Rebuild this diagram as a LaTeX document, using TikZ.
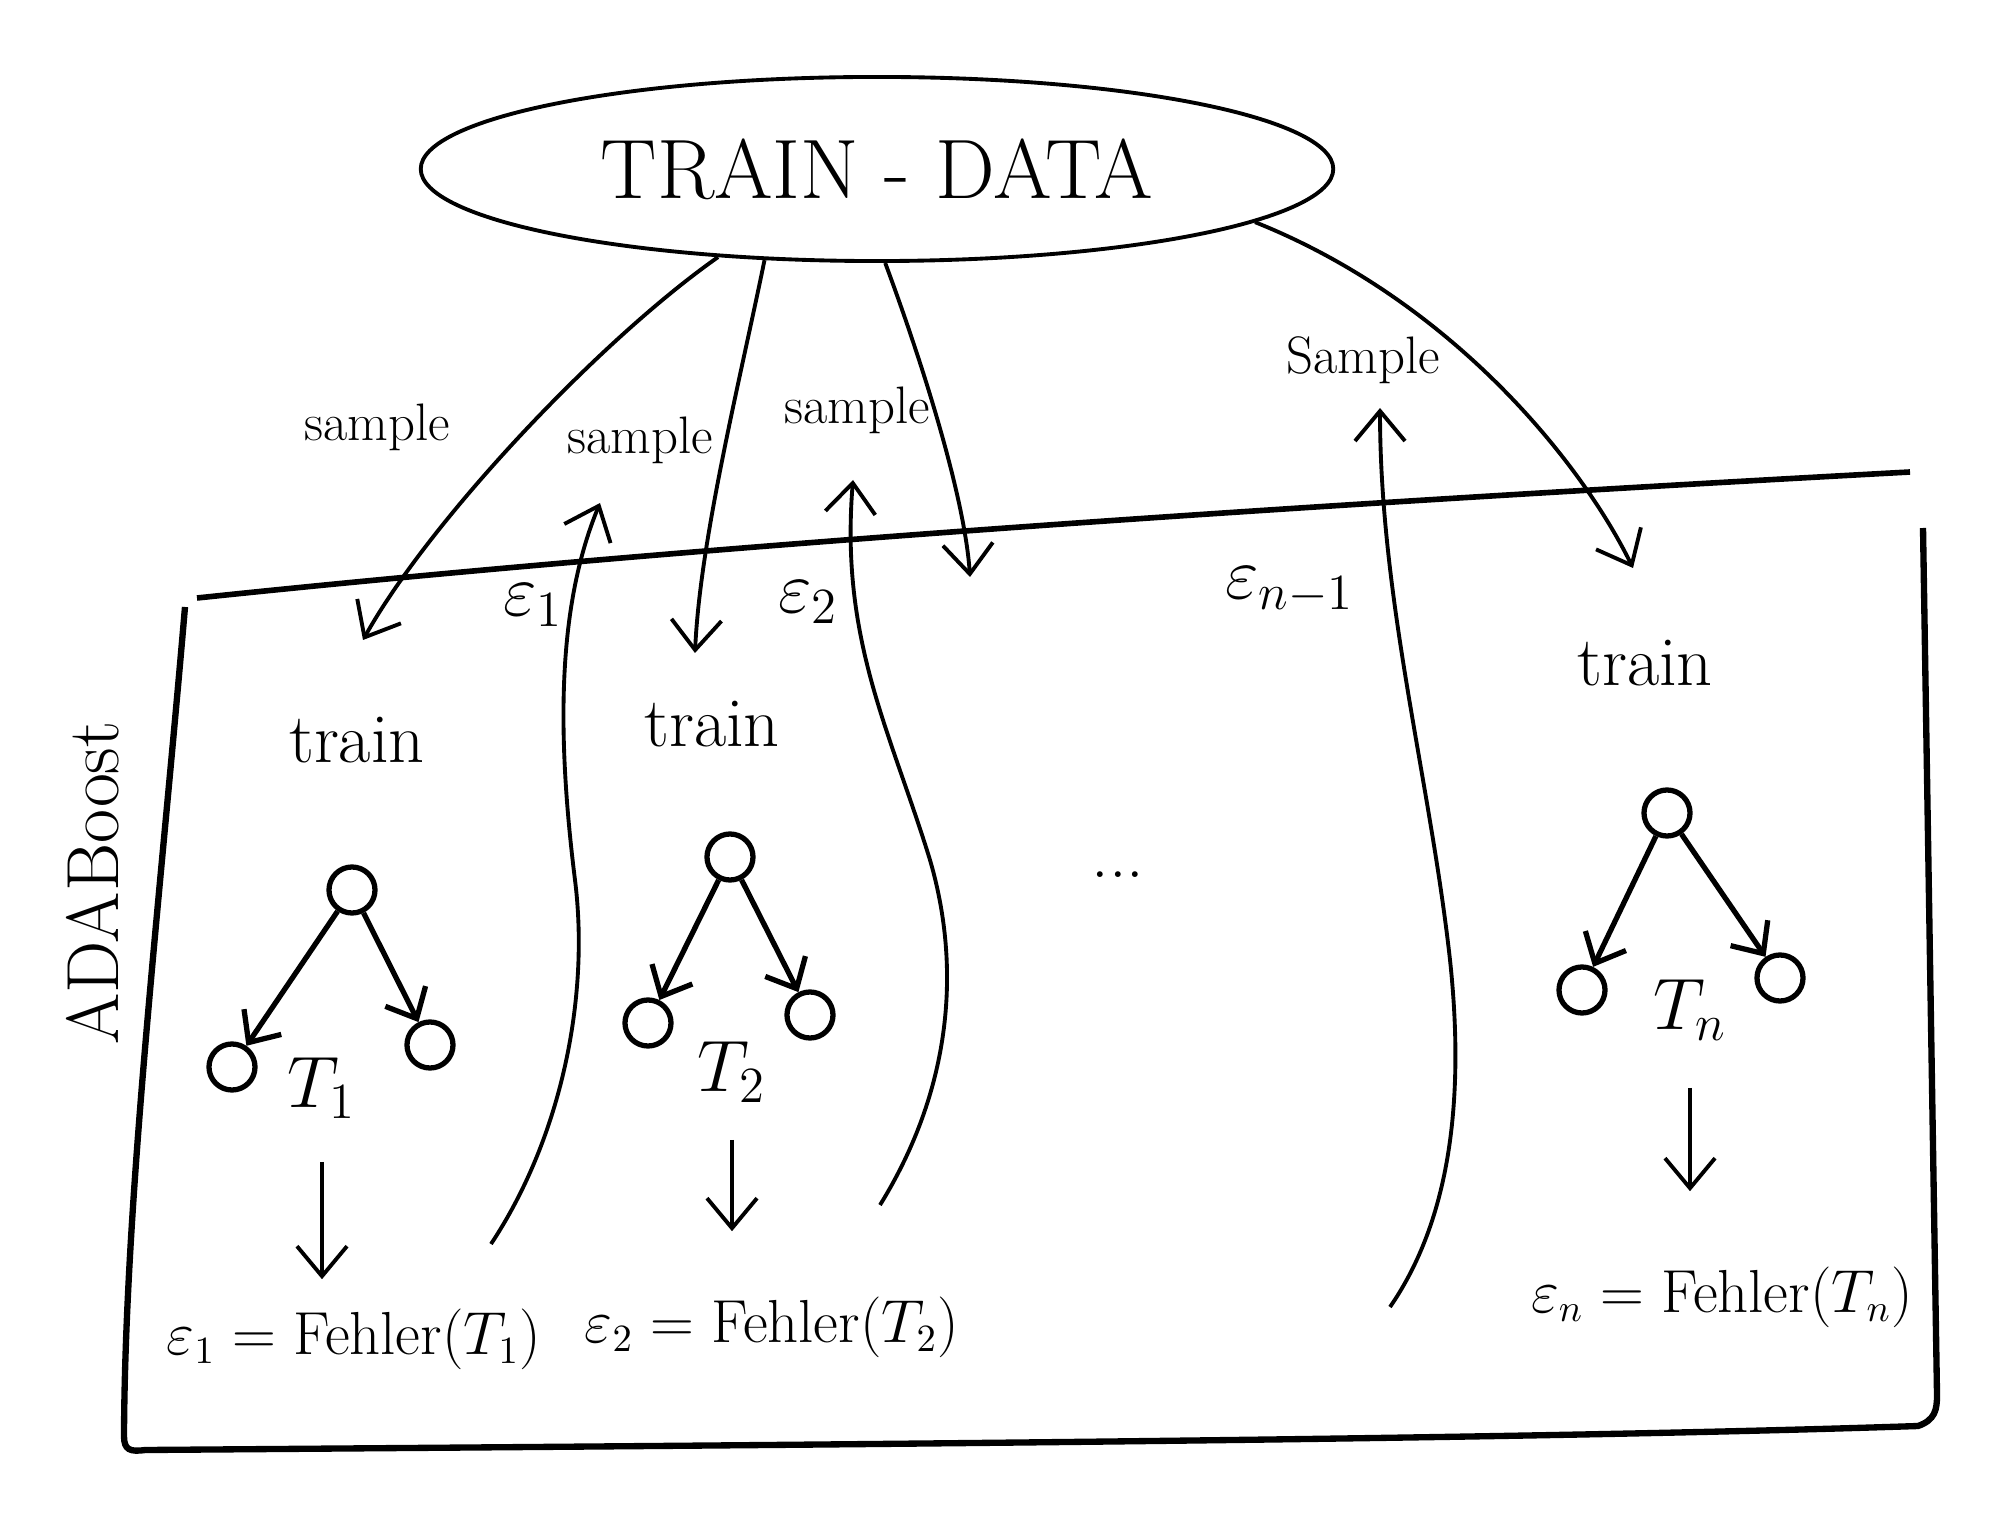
\documentclass[tikz,border=0pt]{standalone}
\usetikzlibrary{shapes.geometric, arrows.meta}
\begin{document}
\begin{tikzpicture}[x=0.01cm, y=-0.01cm, line width=1.1pt,
    barb/.style={-{Straight Barb[length=3mm, width=5mm]}},
    treebarb/.style={-{Straight Barb[length=2.5mm, width=4.5mm]}, line width=1.5pt},
    leaf/.style={circle, draw, line width=1.5pt, minimum size=0.46cm, inner sep=0pt},
    smp/.style={font=\fontsize{15}{18}\selectfont, inner sep=1pt},
    trn/.style={font=\fontsize{20}{24}\selectfont, inner sep=1pt},
    eps/.style={font=\fontsize{22}{26}\selectfont, inner sep=1pt},
    err/.style={font=\fontsize{16}{20}\selectfont, inner sep=1pt}]
  \useasboundingbox (0,0) rectangle (2000,1516);
  % data set on top
  \node[draw, ellipse, minimum width=9.12cm, minimum height=1.84cm, font=\fontsize{24}{28}\selectfont] (data) at (877,169) {TRAIN - DATA};
  % frame of the boosting part
  \draw[line width=1.6pt] (197,598) .. controls (700,545) and (1300,505) .. (1910,472);
  \draw[line width=1.8pt] (185,607) .. controls (160,900) and (125,1200) .. (124,1436) .. controls (124,1450) and (130,1452) .. (145,1450) .. controls (800,1445) and (1500,1440) .. (1918,1426) .. controls (1935,1420) and (1937,1410) .. (1937,1395) -- (1923,528);
  \node[rotate=90, font=\fontsize{21}{24}\selectfont] (ada) at (93,883) {ADABoost};
  % labels
  \node[smp] (S1) at (377,427) {sample};
  \node[smp] (S2) at (640,440) {sample};
  \node[smp] (S3) at (857,410) {sample};
  \node[smp] (S4) at (1363,360) {Sample};
  \node[eps] (E1) at (533,605) {$\varepsilon_1$};
  \node[eps] (E2) at (808,602) {$\varepsilon_2$};
  \node[eps] (En) at (1290,590) {$\varepsilon_{n-1}$};
  \node[trn] (train1) at (357,740) {train};
  \node[trn] (train2) at (712,724) {train};
  \node[trn] (trainn) at (1645,663) {train};
  \node[font=\fontsize{20}{24}\selectfont] (dots) at (1118,875) {...};
  % sampling arrows
  \coordinate (a1) at (363,640);
  \coordinate (a2) at (695,653);
  \coordinate (a3) at (970,577);
  \coordinate (a4) at (1633,568);
  \draw[barb] (data.209) .. controls (600,340) and (430,520) .. (a1);
  \draw[barb] (data.219) .. controls (740,380) and (700,540) .. (a2);
  \draw[barb] (data.275) .. controls (925,370) and (965,500) .. (a3);
  \draw[barb] (data.352) .. controls (1450,300) and (1580,460) .. (a4);
  % trees
  \node[leaf] (R1) at (352,890) {};
  \node[leaf] (L1) at (232,1067) {};
  \node[leaf] (C1) at (430,1045) {};
  \node[trn] (T1) at (322,1088) {$T_1$};
  \node[leaf] (R2) at (730,857) {};
  \node[leaf] (L2) at (648,1023) {};
  \node[leaf] (C2) at (810,1015) {};
  \node[trn] (T2) at (732,1072) {$T_2$};
  \node[leaf] (Rn) at (1667,813) {};
  \node[leaf] (Ln) at (1582,990) {};
  \node[leaf] (Cn) at (1780,978) {};
  \node[trn] (Tn) at (1690,1010) {$T_n$};
  \draw[treebarb] (R1) -- (L1);
  \draw[treebarb] (R1) -- (C1);
  \draw[treebarb] (R2) -- (L2);
  \draw[treebarb] (R2) -- (C2);
  \draw[treebarb] (Rn) -- (Ln);
  \draw[treebarb] (Rn) -- (Cn);
  % errors
  \node[err] (F1) at (354,1339) {$\varepsilon_1=\mathrm{Fehler}(T_1)$};
  \node[err] (F2) at (772,1327) {$\varepsilon_2=\mathrm{Fehler}(T_2)$};
  \node[err] (Fn) at (1722,1297) {$\varepsilon_n=\mathrm{Fehler}(T_n)$};
  \draw[barb, shorten <=0.38cm, shorten >=0.24cm] (T1) -- (T1 |- F1.north);
  \draw[barb, shorten <=0.32cm, shorten >=0.6cm] (T2) -- (T2 |- F2.north);
  \draw[barb, shorten <=0.42cm, shorten >=0.7cm] (Tn) -- (Tn |- Fn.north);
  % weights back to the next sample
  \coordinate (e1a) at (491,1244);
  \coordinate (e1b) at (600,503);
  \coordinate (e2a) at (880,1205);
  \coordinate (e2b) at (853,480);
  \coordinate (ena) at (1390,1307);
  \coordinate (enb) at (1380,408);
  \draw[barb] (e1a) .. controls (560,1140) and (590,1000) .. (575,880) .. controls (555,720) and (560,600) .. (e1b);
  \draw[barb] (e2a) .. controls (945,1100) and (965,980) .. (930,860) .. controls (890,730) and (840,640) .. (e2b);
  \draw[barb] (ena) .. controls (1450,1220) and (1465,1100) .. (1450,960) .. controls (1430,780) and (1380,600) .. (enb);
\end{tikzpicture}
\end{document}
